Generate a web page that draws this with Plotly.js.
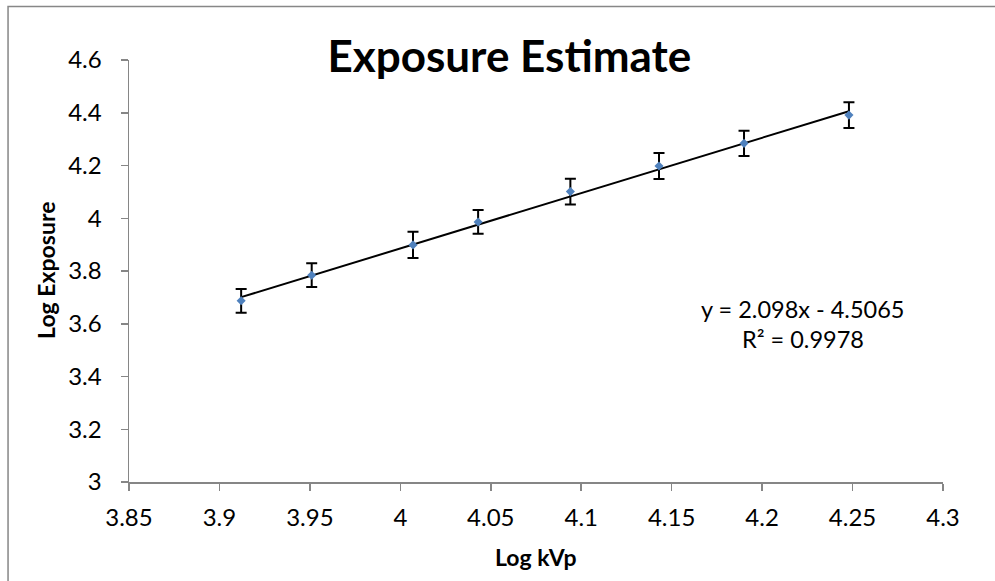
<!DOCTYPE html>
<html>
<head>
<meta charset="utf-8">
<script src="https://cdn.plot.ly/plotly-3.0.1.min.js"></script>
<style>html,body{margin:0;padding:0;background:#fff;}#chart{width:995px;height:581px;}</style>
</head>
<body>
<div id="chart"></div>
<script>
// Data
const logKvp = [3.912, 3.951, 4.007, 4.043, 4.094, 4.143, 4.190, 4.248];
const logExposure = [3.687, 3.784, 3.899, 3.986, 4.101, 4.198, 4.284, 4.391];
const errors = [0.045, 0.045, 0.05, 0.045, 0.049, 0.049, 0.048, 0.049];
const fitSlope = 2.098;
const fitIntercept = -4.5065;
const xTicks = [3.85, 3.9, 3.95, 4, 4.05, 4.1, 4.15, 4.2, 4.25, 4.3];
const xTickText = ["3.85", "3.9", "3.95", "4", "4.05", "4.1", "4.15", "4.2", "4.25", "4.3"];
const yTicks = [3, 3.2, 3.4, 3.6, 3.8, 4, 4.2, 4.4, 4.6];
const yTickText = ["3", "3.2", "3.4", "3.6", "3.8", "4", "4.2", "4.4", "4.6"];
const titleText = "Exposure Estimate";
const xTitle = "Log kVp";
const yTitle = "Log Exposure";
const eqText = "y = 2.098x - 4.5065";
const r2Text = "R² = 0.9978";

const FONT = "Lato, 'Open Sans', sans-serif";
const xFit = [logKvp[0], logKvp[logKvp.length - 1]];
const yFit = xFit.map(v => fitSlope * v + fitIntercept);

const traces = [
  {
    x: xFit, y: yFit, mode: 'lines', type: 'scatter',
    line: {color: '#000000', width: 2}, hoverinfo: 'skip', showlegend: false
  },
  {
    x: logKvp, y: logExposure, mode: 'markers', type: 'scatter',
    marker: {symbol: 'diamond', color: '#4F81BD', size: 7},
    error_y: {type: 'data', array: errors, visible: true, color: '#000000', thickness: 2, width: 5.5},
    showlegend: false
  }
];

const PW = 814.3, PH = 422.3, L = 129, B = 482.3;
const px = v => (v - L) / PW;
const py = v => (B - v) / PH;

const layout = {
  width: 995, height: 581,
  margin: {l: 129, r: 52, t: 60, b: 99},
  paper_bgcolor: '#ffffff', plot_bgcolor: '#ffffff',
  font: {family: FONT, color: '#000000', size: 24},
  showlegend: false,
  title: {
    text: '<b>' + titleText + '</b>', font: {family: FONT, size: 44, color: '#000'},
    xref: 'paper', x: px(509.5), xanchor: 'center', yref: 'container', y: 1 - 57 / 581, yanchor: 'middle'
  },
  xaxis: {
    range: [3.85, 4.3], tickmode: 'array', tickvals: xTicks, ticktext: xTickText,
    showgrid: false, zeroline: false, showline: true, linecolor: '#868686', linewidth: 1.5,
    ticks: 'outside', ticklen: 7, tickwidth: 1.5, tickcolor: '#868686',
    ticklabelstandoff: 7,
    tickfont: {family: FONT, size: 24, color: '#000'}
  },
  yaxis: {
    range: [3, 4.6], tickmode: 'array', tickvals: yTicks, ticktext: yTickText,
    showgrid: false, zeroline: false, showline: true, linecolor: '#868686', linewidth: 1.5,
    ticks: 'outside', ticklen: 7, tickwidth: 1.5, tickcolor: '#868686',
    ticklabelstandoff: 14,
    tickfont: {family: FONT, size: 24, color: '#000'}
  },
  annotations: [
    {text: '<b>' + xTitle + '</b>', xref: 'paper', yref: 'paper', x: px(535.5), y: py(557),
     showarrow: false, xanchor: 'center', yanchor: 'middle', font: {family: FONT, size: 23, color: '#000'}},
    {text: '<b>' + yTitle + '</b>', xref: 'paper', yref: 'paper', x: px(46), y: py(271), textangle: -90,
     showarrow: false, xanchor: 'center', yanchor: 'middle', font: {family: FONT, size: 23, color: '#000'}},
    {text: eqText, xref: 'paper', yref: 'paper', x: px(803), y: py(309),
     showarrow: false, xanchor: 'center', yanchor: 'middle', font: {family: FONT, size: 23.5, color: '#000'}},
    {text: r2Text, xref: 'paper', yref: 'paper', x: px(803), y: py(339),
     showarrow: false, xanchor: 'center', yanchor: 'middle', font: {family: FONT, size: 23.5, color: '#000'}}
  ],
  shapes: [
    {type: 'rect', xref: 'paper', yref: 'paper', x0: px(8), x1: 1.2, y0: -0.4, y1: py(6.5),
     line: {color: '#878787', width: 1.5}, fillcolor: 'rgba(0,0,0,0)', layer: 'below'}
  ]
};

Plotly.newPlot('chart', traces, layout, {displayModeBar: false, staticPlot: true});
</script>
</body>
</html>
